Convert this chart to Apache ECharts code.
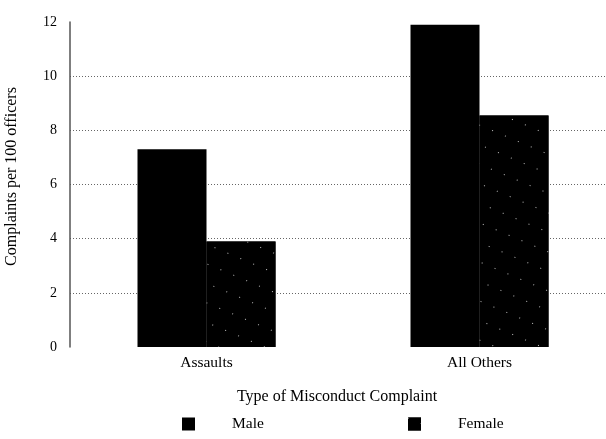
<!DOCTYPE html>
<html><head><meta charset="utf-8">
<script src="https://cdn.jsdelivr.net/npm/echarts@6/dist/echarts.min.js"></script>
<style>html,body{margin:0;padding:0;background:#fff}#c{width:606px;height:439px}</style>
</head><body><div id="c"></div>
<script>
const categories = ['Assaults', 'All Others'];
const maleValues = [7.3, 11.9];
const femaleValues = [3.9, 8.55];
const yTicks = [0, 2, 4, 6, 8, 10, 12];

const font = '"Liberation Serif", "Times New Roman", serif';
const chart = echarts.init(document.getElementById('c'));
chart.setOption({
  backgroundColor: '#fff',
  animation: false,
  grid: { left: 70, top: 22, width: 546, height: 325, containLabel: false, outerBoundsMode: 'none' },
  legend: [
    { data: ['Male'], left: 177, top: 411, itemWidth: 13, itemHeight: 13, icon: 'rect',
      textStyle: { fontFamily: font, fontSize: 15.5, color: '#000', padding: [0,0,0,32] } },
    { data: ['Female'], left: 403, top: 411, itemWidth: 13, itemHeight: 13, icon: 'rect',
      textStyle: { fontFamily: font, fontSize: 15.5, color: '#000', padding: [0,0,0,32] } }
  ],
  xAxis: {
    type: 'category', data: categories,
    name: 'Type of Misconduct Complaint', nameLocation: 'middle', nameGap: 42,
    nameTextStyle: { fontFamily: font, fontSize: 16, color: '#000', padding: [0, 12, 0, 0] },
    axisLine: { show: false }, axisTick: { show: false },
    axisLabel: { fontFamily: font, fontSize: 15.5, color: '#000', margin: 8 }
  },
  yAxis: {
    type: 'value', min: 0, max: 12, interval: 2,
    name: 'Complaints per 100 officers', nameLocation: 'middle', nameGap: 50,
    nameTextStyle: { fontFamily: font, fontSize: 16, color: '#000', padding: [0, 0, 0, 16] },
    axisLine: { show: true, lineStyle: { color: '#555', width: 1.5 } },
    axisTick: { show: false },
    axisLabel: { fontFamily: font, fontSize: 14, color: '#000', margin: 13,
      formatter: v => yTicks.includes(v) ? String(v) : '' },
    splitLine: { show: true, showMinLine: false, showMaxLine: false,
      lineStyle: { type: [1, 2], color: '#666', width: 1 } }
  },
  series: [
    { name: 'Male', type: 'bar', data: maleValues, barWidth: 69, barGap: '0%',
      itemStyle: { color: '#000' } },
    { name: 'Female', type: 'bar', data: femaleValues, barWidth: 69,
      itemStyle: { color: '#000', decal: { symbol: 'rect', symbolSize: 1, color: 'rgba(255,255,255,0.75)',
        backgroundColor: '#000', dashArrayX: [1, 13], dashArrayY: [1, 17], rotation: 0.4 } } }
  ]
});
</script></body></html>
